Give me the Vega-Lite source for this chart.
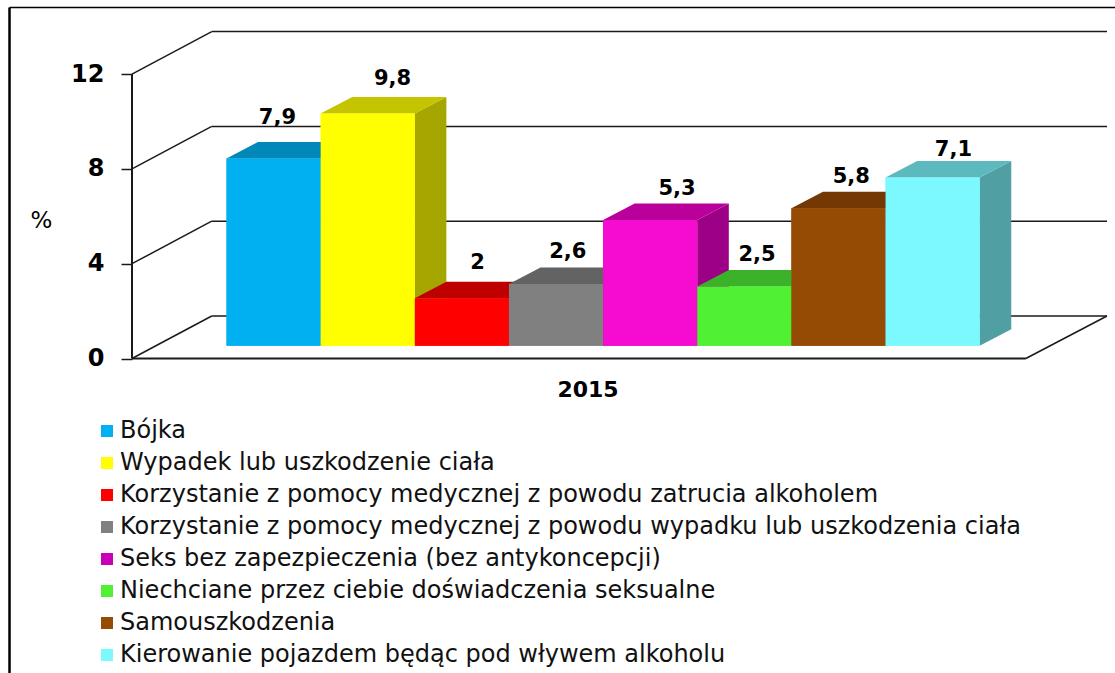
{
"$schema":"https://vega.github.io/schema/vega-lite/v6.json",
"width":1115,"height":673,"padding":0,"autosize":{"type":"none"},"background":"white",
"config":{"view":{"stroke":null},"font":"DejaVu Sans"},
"datasets":{
"bars":[
{"name":"Bójka","value":7.9,"order":0},
{"name":"Wypadek lub uszkodzenie ciała","value":9.8,"order":1},
{"name":"Korzystanie z pomocy medycznej z powodu zatrucia alkoholem","value":2,"order":2},
{"name":"Korzystanie z pomocy medycznej z powodu wypadku lub uszkodzenia ciała","value":2.6,"order":3},
{"name":"Seks bez zapezpieczenia (bez antykoncepcji)","value":5.3,"order":4},
{"name":"Niechciane przez ciebie doświadczenia seksualne","value":2.5,"order":5},
{"name":"Samouszkodzenia","value":5.8,"order":6},
{"name":"Kierowanie pojazdem będąc pod wływem alkoholu","value":7.1,"order":7}],
"ticks":[{"tick":0},{"tick":4},{"tick":8},{"tick":12}],
"year":[{"year":"2015"}],
"one":[{"f":1}]
},
"resolve":{"scale":{"color":"independent"},"axis":{"y":"independent","x":"independent"}},
"layer":[
{"data":{"name":"ticks"},"transform":[{"calculate":"-0.157","as":"a"},{"calculate":"9.352","as":"b"},{"calculate":"datum.tick+1.793","as":"yb"}],
 "mark":{"type":"rule","stroke":"#1a1a1a","strokeWidth":1.5},
 "encoding":{
  "x":{"field":"a","type":"quantitative","scale":{"domain":[-2.406,9.437],"nice":false,"zero":false},"axis":null},
  "x2":{"field":"b"},
  "y":{"field":"yb","type":"quantitative","scale":{"domain":[-13.27,15.127],"nice":false,"zero":false},"axis":null}
 }},
{"data":{"name":"ticks"},"transform":[{"calculate":"-1.004","as":"a"},{"calculate":"-0.157","as":"b"},{"calculate":"datum.tick+1.793","as":"yb"}],
 "mark":{"type":"rule","stroke":"#1a1a1a","strokeWidth":1.5},
 "encoding":{
  "x":{"field":"a","type":"quantitative","axis":null},"x2":{"field":"b"},
  "y":{"field":"tick","type":"quantitative",
   "axis":{"orient":"left","offset":-132,"values":[0,4,8,12],"domain":false,"grid":false,"tickSize":11,"tickColor":"#1a1a1a","tickWidth":1.5,"labelFont":"DejaVu Sans","labelFontWeight":"bold","labelFontSize":24,"labelColor":"#000","labelPadding":17,"title":"%","titleFont":"DejaVu Sans","titleFontSize":23,"titleFontWeight":"normal","titleAngle":0,"titleX":-91,"titleY":232,"titleColor":"#000"}},
  "y2":{"field":"yb"}
 }},
{"data":{"name":"one"},"mark":{"type":"rule","stroke":"#1a1a1a","strokeWidth":2},"encoding":{"x":{"datum":-1.004,"type":"quantitative","axis":null},"y":{"datum":0,"type":"quantitative","axis":null},"y2":{"datum":12}}},
{"data":{"name":"one"},"mark":{"type":"rule","stroke":"#1a1a1a","strokeWidth":2},"encoding":{"x":{"datum":-1.004,"type":"quantitative","axis":null},"x2":{"datum":8.49},"y":{"datum":0,"type":"quantitative","axis":null}}},
{"data":{"name":"one"},"mark":{"type":"rule","stroke":"#1a1a1a","strokeWidth":1.5},"encoding":{"x":{"datum":8.49,"type":"quantitative","axis":null},"x2":{"datum":9.352},"y":{"datum":0,"type":"quantitative","axis":null},"y2":{"datum":1.793}}},
{"data":{"name":"one"},"mark":{"type":"rule","stroke":"#000","strokeWidth":1.5},"encoding":{"x":{"datum":-2.305,"type":"quantitative","axis":null},"x2":{"datum":9.437},"y":{"datum":14.81,"type":"quantitative","axis":null}}},
{"data":{"name":"one"},"mark":{"type":"rule","stroke":"#000","strokeWidth":2.5},"encoding":{"x":{"datum":-2.305,"type":"quantitative","axis":null},"y":{"datum":-13.27,"type":"quantitative","axis":null},"y2":{"datum":14.81}}},
{"data":{"name":"bars"},"transform":[{"calculate":"datum.order","as":"l"},{"calculate":"datum.order+1","as":"r"},{"calculate":"0.54","as":"b"},{"calculate":"0.54+datum.value","as":"t"}],
 "mark":{"type":"rect"},
 "encoding":{
  "x":{"field":"l","type":"quantitative","axis":null},"x2":{"field":"r"},
  "y":{"field":"b","type":"quantitative","axis":null},"y2":{"field":"t"},
  "color":{"field":"name","type":"nominal","sort":null,
   "scale":{"domain":["Bójka","Wypadek lub uszkodzenie ciała","Korzystanie z pomocy medycznej z powodu zatrucia alkoholem","Korzystanie z pomocy medycznej z powodu wypadku lub uszkodzenia ciała","Seks bez zapezpieczenia (bez antykoncepcji)","Niechciane przez ciebie doświadczenia seksualne","Samouszkodzenia","Kierowanie pojazdem będąc pod wływem alkoholu"],
   "range":["#00B0F0","#FFFF00","#FF0000","#808080","#C800B8","#50F032","#964B05","#7CF8FF"]},
   "legend":{"orient":"none","legendX":95,"legendY":419,"title":null,"padding":0,"symbolType":"square","symbolSize":144,"symbolStrokeWidth":0,"labelFont":"DejaVu Sans","labelFontSize":24,"labelColor":"#111","labelLimit":1000,"labelOffset":1,"rowPadding":8,"columns":1}}
 }},
{"data":{"name":"bars"},"transform":[{"calculate":"[0,1]","as":"k"},{"flatten":["k"]},{"calculate":"datum.order+1+datum.k*0.335","as":"xs"},{"calculate":"0.54+datum.k*0.696","as":"b"},{"calculate":"0.54+datum.value+datum.k*0.696","as":"t"}],
 "mark":{"type":"area","orient":"vertical","opacity":1},
 "encoding":{
  "x":{"field":"xs","type":"quantitative","axis":null},
  "y":{"field":"t","type":"quantitative","axis":null,"stack":null},"y2":{"field":"b"},
  "color":{"field":"name","type":"nominal","legend":null,"sort":null,
   "scale":{"domain":["Bójka","Wypadek lub uszkodzenie ciała","Korzystanie z pomocy medycznej z powodu zatrucia alkoholem","Korzystanie z pomocy medycznej z powodu wypadku lub uszkodzenia ciała","Seks bez zapezpieczenia (bez antykoncepcji)","Niechciane przez ciebie doświadczenia seksualne","Samouszkodzenia","Kierowanie pojazdem będąc pod wływem alkoholu"],
   "range":["#0074A0","#A6A600","#930000","#505050","#9C0084","#2F8A20","#5E2D02","#509FA3"]}}
 }},
{"data":{"name":"bars"},"transform":[{"calculate":"[0,1]","as":"k"},{"flatten":["k"]},{"calculate":"datum.order+datum.k*0.335","as":"xl"},{"calculate":"datum.order+1+datum.k*0.335","as":"xr"},{"calculate":"0.54+datum.value+datum.k*0.696","as":"t"}],
 "mark":{"type":"area","orient":"horizontal","opacity":1},
 "encoding":{
  "y":{"field":"t","type":"quantitative","axis":null},
  "x":{"field":"xl","type":"quantitative","axis":null,"stack":null},"x2":{"field":"xr"},
  "color":{"field":"name","type":"nominal","legend":null,"sort":null,
   "scale":{"domain":["Bójka","Wypadek lub uszkodzenie ciała","Korzystanie z pomocy medycznej z powodu zatrucia alkoholem","Korzystanie z pomocy medycznej z powodu wypadku lub uszkodzenia ciała","Seks bez zapezpieczenia (bez antykoncepcji)","Niechciane przez ciebie doświadczenia seksualne","Samouszkodzenia","Kierowanie pojazdem będąc pod wływem alkoholu"],
   "range":["#0088B8","#C4C400","#BF0000","#636363","#B9009B","#3CB12A","#733803","#5CBABE"]}}
 }},
{"data":{"name":"bars"},"transform":[{"calculate":"datum.order","as":"l"},{"calculate":"datum.order+1","as":"r"},{"calculate":"0.54","as":"b"},{"calculate":"0.54+datum.value","as":"t"}],
 "mark":{"type":"rect"},
 "encoding":{
  "x":{"field":"l","type":"quantitative","axis":null},"x2":{"field":"r"},
  "y":{"field":"b","type":"quantitative","axis":null},"y2":{"field":"t"},
  "color":{"field":"name","type":"nominal","legend":null,"sort":null,
   "scale":{"domain":["Bójka","Wypadek lub uszkodzenie ciała","Korzystanie z pomocy medycznej z powodu zatrucia alkoholem","Korzystanie z pomocy medycznej z powodu wypadku lub uszkodzenia ciała","Seks bez zapezpieczenia (bez antykoncepcji)","Niechciane przez ciebie doświadczenia seksualne","Samouszkodzenia","Kierowanie pojazdem będąc pod wływem alkoholu"],
   "range":["#00B0F0","#FFFF00","#FF0000","#808080","#F50CD0","#50F032","#964B05","#7CF8FF"]}}
 }},
{"data":{"name":"bars"},"transform":[
 {"calculate":"datum.order+0.6675+[-0.127,0.096,0,-0.042,0.117,-0.032,-0.032,0.053][datum.order]","as":"lx"},
 {"calculate":"0.54+datum.value+0.696+[1.03,0.77,0.79,0.67,0.61,0.63,0.63,0.47][datum.order]","as":"ly"},
 {"calculate":"replace(toString(datum.value),'.',',')","as":"label"}],
 "mark":{"type":"text","font":"DejaVu Sans","fontWeight":"bold","fontSize":21,"baseline":"middle","align":"center","color":"#000"},
 "encoding":{
  "x":{"field":"lx","type":"quantitative","axis":null},
  "y":{"field":"ly","type":"quantitative","axis":null},
  "text":{"field":"label"}
 }},
{"data":{"name":"year"},
 "mark":{"type":"text","font":"DejaVu Sans","fontWeight":"bold","fontSize":22,"baseline":"middle","align":"center","color":"#000"},
 "encoding":{
  "x":{"datum":3.84,"type":"quantitative","axis":null},
  "y":{"datum":-1.35,"type":"quantitative","axis":null},
  "text":{"field":"year"}
 }}
]
}
